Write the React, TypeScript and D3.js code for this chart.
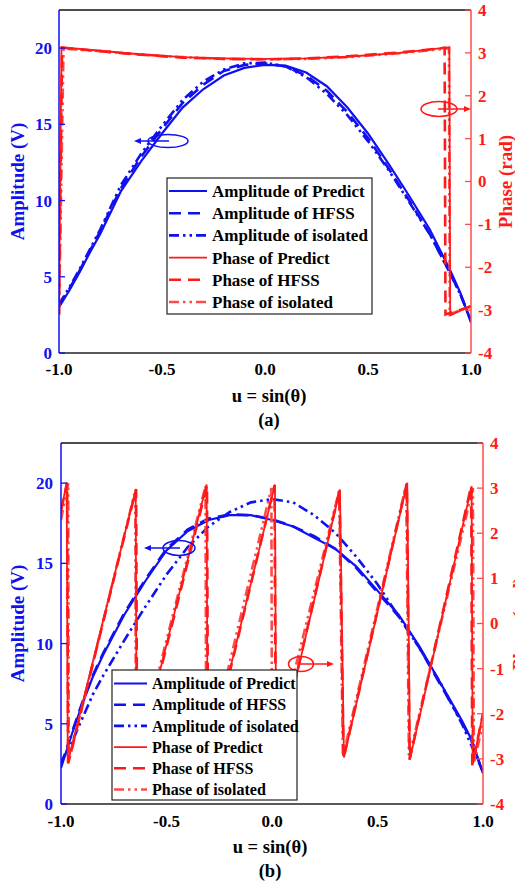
import React from "react";
import * as d3 from "d3";

// ---------- DATA ----------
const uGrid = [-1, -0.95, -0.9, -0.85, -0.8, -0.7, -0.6, -0.5, -0.4, -0.3, -0.2, -0.1, 0, 0.1, 0.2, 0.3, 0.4, 0.5, 0.6, 0.7, 0.8, 0.9, 0.95, 1];

// panel (a) amplitudes
const ampPredictA = [3.0, 4.1, 5.3, 6.6, 7.8, 10.6, 12.6, 14.4, 16.1, 17.3, 18.2, 18.7, 18.9, 18.85, 18.4, 17.5, 16.1, 14.4, 12.4, 10.3, 8.1, 5.4, 3.9, 2.0];
const ampHfssA = [3.1, 4.2, 5.4, 6.7, 8.0, 10.8, 12.9, 14.7, 16.4, 17.6, 18.5, 18.9, 19.0, 18.8, 18.2, 17.2, 15.8, 14.1, 12.1, 10.0, 7.8, 5.2, 3.8, 2.1];
const ampIsoA = [3.2, 4.3, 5.5, 6.8, 8.1, 11.0, 13.1, 14.9, 16.6, 17.8, 18.6, 19.0, 19.05, 18.8, 18.1, 17.0, 15.6, 13.9, 12.0, 9.9, 7.8, 5.2, 3.8, 2.1];

// panel (b) amplitudes
const ampPredictB = [2.25, 4.3, 6.2, 7.9, 9.3, 11.8, 13.9, 15.8, 17.0, 17.7, 18.0, 18.0, 17.7, 17.3, 16.6, 15.9, 14.8, 13.3, 11.8, 9.8, 7.5, 5.2, 3.9, 1.9];
const ampHfssB = [2.4, 4.4, 6.3, 8.0, 9.4, 11.9, 14.0, 15.9, 17.1, 17.8, 18.05, 18.0, 17.75, 17.3, 16.7, 15.9, 14.7, 13.2, 11.7, 9.7, 7.4, 5.1, 3.8, 1.9];
const ampIsoB = [2.6, 3.8, 5.3, 6.8, 8.0, 10.2, 12.3, 14.3, 16.0, 17.3, 18.2, 18.8, 19.0, 18.8, 18.0, 16.9, 15.4, 13.7, 11.7, 9.7, 7.5, 5.0, 3.5, 2.0];

// panel (a) phases [u, rad]
const phasePredictA: [number, number][] = [[-1, -3.08], [-0.988, 3.13], [-0.8, 3.05], [-0.64, 2.98], [-0.4, 2.9], [-0.2, 2.87], [0, 2.86], [0.2, 2.87], [0.4, 2.91], [0.655, 3.0], [0.8, 3.08], [0.895, 3.13], [0.899, -3.12], [1, -2.9]];
const phaseHfssA: [number, number][] = [[-1, -3.1], [-0.985, 3.12], [-0.8, 3.04], [-0.64, 2.97], [-0.4, 2.89], [-0.2, 2.86], [0, 2.85], [0.2, 2.87], [0.4, 2.92], [0.655, 3.01], [0.8, 3.08], [0.872, 3.12], [0.876, -3.1], [1, -2.92]];
const phaseIsoA: [number, number][] = [[-1, -3.1], [-0.978, 3.1], [-0.8, 3.04], [-0.6, 2.96], [-0.4, 2.9], [-0.2, 2.86], [0, 2.85], [0.2, 2.86], [0.4, 2.9], [0.6, 2.97], [0.8, 3.06], [0.893, 3.11], [0.897, -3.1], [1, -2.9]];

// panel (b) phases [u, rad]
const phasePredictB: [number, number][] = [[-1, 2.49], [-0.973, 3.12], [-0.968, -3.08], [-0.646, 2.96], [-0.641, -3.1], [-0.31, 3.08], [-0.305, -3.06], [0.014, 3.08], [0.02, -3.1], [0.322, 2.97], [0.341, -2.97], [0.641, 3.12], [0.654, -3.0], [0.946, 3.04], [0.951, -3.12], [1.0, -1.98]];
const phaseHfssB: [number, number][] = [[-1, 2.5], [-0.971, 3.12], [-0.966, -3.1], [-0.644, 2.98], [-0.639, -3.1], [-0.308, 3.06], [-0.303, -3.08], [0.012, 3.06], [0.018, -3.1], [0.32, 2.95], [0.339, -2.99], [0.639, 3.1], [0.652, -3.02], [0.944, 3.05], [0.949, -3.14], [1.0, -2.0]];
const phaseIsoB: [number, number][] = [[-1, 2.3], [-0.966, 3.1], [-0.963, -3.05], [-0.648, 2.95], [-0.645, -3.05], [-0.315, 3.05], [-0.312, -3.05], [-0.003, 3.0], [0.0, -3.08], [0.318, 2.94], [0.336, -2.95], [0.636, 3.08], [0.649, -2.98], [0.952, 3.0], [0.957, -3.1], [1.0, -2.2]];

const xTicks = [-1, -0.5, 0, 0.5, 1];
const xTickLabels = ["-1.0", "-0.5", "0.0", "0.5", "1.0"];
const ampTicks = [0, 5, 10, 15, 20];
const phaseTicks = [-4, -3, -2, -1, 0, 1, 2, 3, 4];
const legendLabels = ["Amplitude of Predict", "Amplitude of HFSS", "Amplitude of isolated", "Phase of Predict", "Phase of HFSS", "Phase of isolated"];

// ---------- STYLE ----------
const BLUE = "#1010f0";
const RED = "#ff1a1a";
const RED_ISO = "#ff4a4a";
const FONT = "'Liberation Serif', 'Times New Roman', serif";
const DASH = "12,7";
const DASHDOT = "10,4,2.5,4,2.5,4";

type Ell = { cx: number; cy: number; rx: number; ry: number; tip: number };
type Panel = {
  id: string;
  left: number; right: number; top: number; bottom: number;
  amp: number[][];
  phase: [number, number][][];
  legend: { x: number; y: number; w: number; h: number; row0: number; rowH: number; lineW: number; fs: number };
  xTickY: number; xLabelY: number; capY: number; capText: string; capX: number;
  leftLabelOff: number; rightLabelOff: number; phaseLabelX: number;
  blueEll: Ell;
  redEll: Ell;
};

const panels: Panel[] = [
  {
    id: "a", left: 59, right: 471, top: 10, bottom: 353,
    amp: [ampPredictA, ampHfssA, ampIsoA],
    phase: [phasePredictA, phaseHfssA, phaseIsoA],
    legend: { x: 167, y: 178, w: 205, h: 136, row0: 191, rowH: 22.2, lineW: 38, fs: 17 },
    xTickY: 375, xLabelY: 402, capY: 426, capText: "(a)", capX: 269,
    leftLabelOff: 7, rightLabelOff: 7, phaseLabelX: 512,
    blueEll: { cx: 168, cy: 141, rx: 20, ry: 6.5, tip: 134 },
    redEll: { cx: 439, cy: 109, rx: 18, ry: 7.5, tip: 471 },
  },
  {
    id: "b", left: 61, right: 483, top: 443, bottom: 804,
    amp: [ampPredictB, ampHfssB, ampIsoB],
    phase: [phasePredictB, phaseHfssB, phaseIsoB],
    legend: { x: 112, y: 670, w: 185, h: 130, row0: 683.5, rowH: 21.2, lineW: 33, fs: 16 },
    xTickY: 827, xLabelY: 853, capY: 877, capText: "(b)", capX: 270,
    leftLabelOff: 8, rightLabelOff: 7, phaseLabelX: 526,
    blueEll: { cx: 179, cy: 548, rx: 16, ry: 7.5, tip: 144 },
    redEll: { cx: 301, cy: 664, rx: 12.5, ry: 7.5, tip: 334 },
  },
];

const ampStyles = [
  { stroke: BLUE, width: 2.2, dash: undefined as string | undefined },
  { stroke: BLUE, width: 2.6, dash: DASH },
  { stroke: BLUE, width: 2.6, dash: DASHDOT },
];
const phaseStyles = [
  { stroke: RED, width: 1.8, dash: undefined as string | undefined },
  { stroke: RED, width: 2.6, dash: DASH },
  { stroke: RED_ISO, width: 2.6, dash: DASHDOT },
];

function PanelView({ p }: { p: Panel }) {
  const x = d3.scaleLinear().domain([-1, 1]).range([p.left, p.right]);
  const yA = d3.scaleLinear().domain([0, 22.5]).range([p.bottom, p.top]);
  const yP = d3.scaleLinear().domain([-4, 4]).range([p.bottom, p.top]);
  const ampLine = (vals: number[]) =>
    d3.line<number>().x((_, i) => x(uGrid[i])).y((v) => yA(v))(vals) || "";
  const phLine = d3.line<[number, number]>().x((d) => x(d[0])).y((d) => yP(d[1]));
  const clipId = "clip-" + p.id;
  const midY = (p.top + p.bottom) / 2;
  const lg = p.legend;
  const allStyles = [...ampStyles, ...phaseStyles];
  const arrow = (e: Ell, color: string, dir: number) => {
    const start = e.cx - dir;
    const tip = e.tip;
    const base = tip - dir * 7;
    return (
      <g>
        <ellipse cx={e.cx} cy={e.cy} rx={e.rx} ry={e.ry} fill="none" stroke={color} strokeWidth={1.5} />
        <line x1={start} y1={e.cy} x2={base} y2={e.cy} stroke={color} strokeWidth={1.5} />
        <polygon points={`${tip},${e.cy} ${base},${e.cy - 3} ${base},${e.cy + 3}`} fill={color} />
      </g>
    );
  };
  return (
    <g>
      <defs>
        <clipPath id={clipId}>
          <rect x={p.left} y={p.top} width={p.right - p.left} height={p.bottom - p.top} />
        </clipPath>
      </defs>
      <g clipPath={`url(#${clipId})`}>
        {p.amp.map((vals, i) => (
          <path key={"a" + i} d={ampLine(vals)} fill="none" stroke={ampStyles[i].stroke} strokeWidth={ampStyles[i].width} strokeDasharray={ampStyles[i].dash} />
        ))}
        {p.phase.slice().reverse().map((pts, ri) => {
          const i = p.phase.length - 1 - ri;
          return (
            <path key={"p" + i} d={phLine(pts) || ""} fill="none" stroke={phaseStyles[i].stroke} strokeWidth={phaseStyles[i].width} strokeDasharray={phaseStyles[i].dash} />
          );
        })}
      </g>
      {/* frame */}
      <line x1={p.left} y1={p.top} x2={p.right} y2={p.top} stroke="#111" strokeWidth={1.3} />
      <line x1={p.left} y1={p.bottom} x2={p.right} y2={p.bottom} stroke="#222" strokeWidth={1.3} />
      <line x1={p.left} y1={p.top} x2={p.left} y2={p.bottom} stroke={BLUE} strokeWidth={1.5} />
      <line x1={p.right} y1={p.top} x2={p.right} y2={p.bottom} stroke={RED_ISO} strokeWidth={1.5} />
      {ampTicks.map((t) => (
        <g key={"at" + t}>
          <line x1={p.left} x2={p.left + 6} y1={yA(t)} y2={yA(t)} stroke={BLUE} strokeWidth={1.3} />
          <text x={p.left - p.leftLabelOff} y={yA(t)} dy="0.35em" textAnchor="end" fill={BLUE} fontFamily={FONT} fontWeight="bold" fontSize={17}>{t}</text>
        </g>
      ))}
      {phaseTicks.map((t) => (
        <g key={"pt" + t}>
          <line x1={p.right - 6} x2={p.right} y1={yP(t)} y2={yP(t)} stroke={RED_ISO} strokeWidth={1.3} />
          <text x={p.right + p.rightLabelOff} y={yP(t)} dy="0.35em" textAnchor="start" fill={RED} fontFamily={FONT} fontWeight="bold" fontSize={17}>{String(t)}</text>
        </g>
      ))}
      {xTicks.map((t, i) => (
        <text key={"xt" + t} x={x(t)} y={p.xTickY} textAnchor="middle" fill="#000" fontFamily={FONT} fontWeight="bold" fontSize={17}>{xTickLabels[i]}</text>
      ))}
      <text x={p.capX} y={p.xLabelY} textAnchor="middle" fontFamily={FONT} fontWeight="bold" fontSize={18.5}>u = sin(θ)</text>
      <text x={p.capX} y={p.capY} textAnchor="middle" fontFamily={FONT} fontWeight="bold" fontSize={18.5}>{p.capText}</text>
      <text transform={`translate(24,${midY}) rotate(-90)`} textAnchor="middle" fill={BLUE} fontFamily={FONT} fontWeight="bold" fontSize={19}>Amplitude (V)</text>
      <text transform={`translate(${p.phaseLabelX},${midY}) rotate(-90)`} textAnchor="middle" fill={RED} fontFamily={FONT} fontWeight="bold" fontSize={19}>Phase (rad)</text>
      {arrow(p.blueEll, BLUE, -1)}
      {arrow(p.redEll, RED, 1)}
      {/* legend */}
      <rect x={lg.x} y={lg.y} width={lg.w} height={lg.h} fill="#fff" stroke="#222" strokeWidth={1.2} />
      {legendLabels.map((lab, i) => {
        const s = allStyles[i];
        const yy = lg.row0 + i * lg.rowH;
        return (
          <g key={lab}>
            <line x1={lg.x + 2} x2={lg.x + 2 + lg.lineW} y1={yy} y2={yy} stroke={s.stroke} strokeWidth={s.width} strokeDasharray={s.dash} />
            <text x={lg.x + lg.lineW + 7} y={yy} dy="0.35em" fontFamily={FONT} fontWeight="bold" fontSize={lg.fs} fill="#000">{lab}</text>
          </g>
        );
      })}
    </g>
  );
}

export default function App() {
  return (
    <svg width={515} height={884} style={{ position: "absolute", left: 0, top: 0, background: "#fff" }}>
      <rect width={515} height={884} fill="#fff" />
      {panels.map((p) => (
        <PanelView key={p.id} p={p} />
      ))}
    </svg>
  );
}
